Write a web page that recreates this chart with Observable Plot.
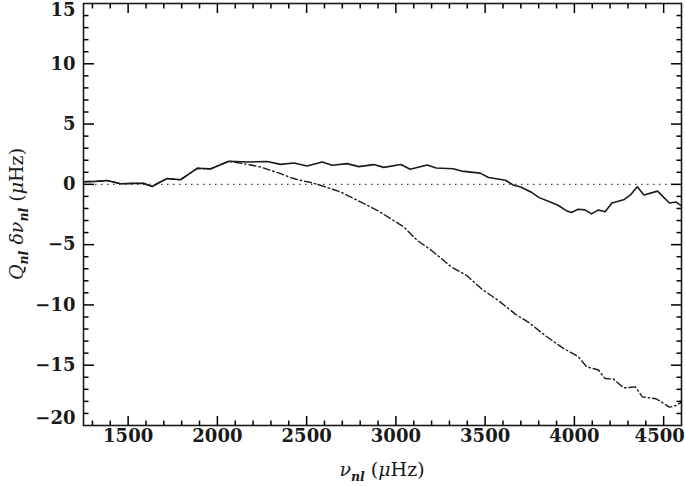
<!DOCTYPE html>
<html><head><meta charset="utf-8">
<script src="https://cdn.jsdelivr.net/npm/d3@7"></script>
<script src="https://cdn.jsdelivr.net/npm/@observablehq/plot@0.6"></script>
<style>body{margin:0;background:#fff} #chart svg{display:block}</style>
</head><body><div id="chart"></div>
<script>
// Solid curve
const freqSolid = [1250,1320,1383,1457,1530,1588,1635,1680,1719,1793,1840,1887,1961,2064,2167,2279,2354,2428,2503,2587,2643,2727,2792,2876,2932,3028,3080,3175,3226,3321,3368,3472,3519,3614,3661,3699,3756,3803,3861,3908,3955,3983,4021,4059,4096,4135,4172,4210,4276,4314,4352,4390,4466,4532,4570,4600];
const valSolid  = [0.22,0.25,0.32,0.05,0.08,0.08,-0.18,0.2,0.48,0.38,0.85,1.33,1.28,1.92,1.86,1.89,1.66,1.77,1.53,1.85,1.58,1.72,1.47,1.64,1.41,1.64,1.26,1.6,1.36,1.3,1.1,0.93,0.57,0.34,-0.08,-0.22,-0.63,-1.1,-1.45,-1.73,-2.18,-2.34,-2.07,-2.12,-2.45,-2.12,-2.28,-1.55,-1.28,-0.88,-0.2,-0.88,-0.56,-1.55,-1.47,-1.78];
// Dash-dot curve
const freqDash = [1250,1320,1383,1457,1530,1588,1635,1680,1719,1793,1840,1887,1961,2064,2167,2242,2354,2410,2447,2510,2560,2690,2802,2895,2970,3044,3119,3198,3312,3396,3481,3576,3671,3746,3841,3936,4021,4068,4135,4172,4219,4276,4342,4381,4457,4494,4532,4570,4600];
const valDash  = [0.22,0.25,0.32,0.05,0.08,0.08,-0.18,0.2,0.48,0.38,0.85,1.33,1.28,1.92,1.66,1.44,0.89,0.56,0.4,0.2,0.0,-0.63,-1.46,-2.15,-2.84,-3.53,-4.64,-5.46,-6.86,-7.56,-8.68,-9.66,-10.78,-11.47,-12.59,-13.58,-14.28,-15.12,-15.4,-16.1,-16.15,-16.88,-16.8,-17.63,-17.78,-18.11,-18.48,-18.34,-18.06];
// Ticks
const xMajor = [1500,2000,2500,3000,3500,4000,4500];
const xMinor = d3.range(1300, 4600, 100).filter(v => v % 500 !== 0);
const yMajor = [-15,-10,-5,0,5,10];
const yMinor = d3.range(-19, 15, 1).filter(v => v % 5 !== 0);
const yLabelsMid = [-15,-10,-5,0,5,10];
const xLabelsMid = [1500,2000,2500,3000,3500,4000];

const ink = "#1a1a1a";
const tfont = {fontFamily: "DejaVu Serif", fontWeight: "bold", fontSize: 18, fill: ink};
const fmt = d => d < 0 ? "\u2212" + Math.abs(d) : String(d);
const tx = (data, anchor, len) => Plot.axisX(data, {anchor, tickSize: -len, fill: "none", label: null, stroke: "#000", strokeWidth: 1.5});
const ty = (data, anchor, len) => Plot.axisY(data, {anchor, tickSize: -len, fill: "none", label: null, stroke: "#000", strokeWidth: 1.5});

const plot = Plot.plot({
  width: 685, height: 486,
  marginLeft: 83, marginRight: 4, marginTop: 3, marginBottom: 61,
  x: {domain: [1250, 4600]},
  y: {domain: [-20, 15]},
  style: {background: "#fff", overflow: "visible"},
  marks: [
    Plot.frame({stroke: ink, strokeWidth: 1.6}),
    Plot.ruleY([0], {stroke: "#444", strokeDasharray: "1.5,4.5", strokeWidth: 1.4}),
    Plot.line(freqDash, {x: freqDash, y: valDash, stroke: ink, strokeWidth: 1.4, strokeDasharray: "7,3,1.5,3"}),
    Plot.line(freqSolid, {x: freqSolid, y: valSolid, stroke: ink, strokeWidth: 1.6}),
    tx(xMajor, "bottom", 9), tx(xMinor, "bottom", 4.5),
    tx(xMajor, "top", 9), tx(xMinor, "top", 4.5),
    ty(yMajor, "left", 11), ty(yMinor, "left", 5.5),
    ty(yMajor, "right", 11), ty(yMinor, "right", 5.5),
    Plot.text(xLabelsMid, {x: d => d, frameAnchor: "bottom", dy: 16, text: fmt, ...tfont}),
    Plot.text([4500], {x: d => d, frameAnchor: "bottom", dy: 16, dx: -4, text: fmt, ...tfont}),
    Plot.text(yLabelsMid, {y: d => d, frameAnchor: "left", dx: -8, textAnchor: "end", text: fmt, ...tfont}),
    Plot.text([15], {y: d => d, frameAnchor: "left", dx: -8, dy: 7, textAnchor: "end", text: fmt, ...tfont}),
    Plot.text([-20], {y: d => d, frameAnchor: "left", dx: -8, dy: -7, textAnchor: "end", text: fmt, ...tfont})
  ]
});
document.getElementById("chart").appendChild(plot);

const svg = d3.select(plot);
const lblFont = "DejaVu Serif";
// x label
const xl = svg.append("text").attr("x", 382).attr("y", 476).attr("text-anchor", "middle")
  .attr("font-family", lblFont).attr("font-size", 19).attr("fill", ink);
xl.append("tspan").attr("font-style", "italic").text("\u03bd");
xl.append("tspan").attr("font-style", "italic").attr("font-weight", "bold").attr("font-size", 12.5).attr("dy", 5).text("nl");
xl.append("tspan").attr("dy", -5).text(" (");
xl.append("tspan").attr("font-style", "italic").text("\u03bc");
xl.append("tspan").text("Hz)");
// y label
const yl = svg.append("text").attr("transform", "translate(23,214) rotate(-90)").attr("text-anchor", "middle")
  .attr("font-family", lblFont).attr("font-size", 19).attr("fill", ink);
yl.append("tspan").attr("font-style", "italic").text("Q");
yl.append("tspan").attr("font-style", "italic").attr("font-weight", "bold").attr("font-size", 12.5).attr("dy", 5).text("nl");
yl.append("tspan").attr("dy", -5).attr("font-style", "italic").text(" \u03b4\u03bd");
yl.append("tspan").attr("font-style", "italic").attr("font-weight", "bold").attr("font-size", 12.5).attr("dy", 5).text("nl");
yl.append("tspan").attr("dy", -5).text(" (");
yl.append("tspan").attr("font-style", "italic").text("\u03bc");
yl.append("tspan").text("Hz)");
</script>
</body></html>
